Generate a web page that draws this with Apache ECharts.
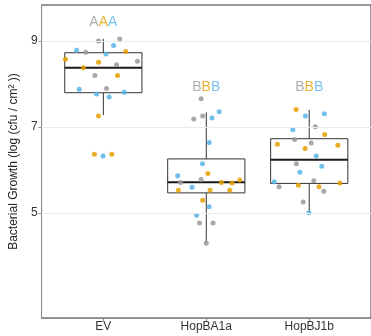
<!DOCTYPE html>
<html>
<head>
<meta charset="utf-8">
<script src="https://cdn.jsdelivr.net/npm/echarts@6/dist/echarts.min.js"></script>
<style>
  html, body { margin: 0; padding: 0; background: #fff; }
  #chart { width: 371px; height: 336px; }
</style>
</head>
<body>
<div id="chart"></div>
<script>
const groups = ['EV', 'HopBA1a', 'HopBJ1b'];

// [min, Q1, median, Q3, max]
const boxStats = [
  [7.28, 7.80, 8.38, 8.73, 9.05],
  [4.30, 5.47, 5.72, 6.26, 7.34],
  [5.01, 5.69, 6.24, 6.73, 7.40],
];

// jittered points, [x position, log cfu]
const grayPts = [
  [0.953, 9.00], [1.159, 9.05], [0.828, 8.74], [1.128, 8.45], [1.331, 8.53], [0.918, 8.20], [1.031, 7.90],
  [1.950, 7.66], [1.878, 7.19], [1.965, 7.26], [1.950, 5.78], [1.750, 5.71], [1.934, 4.77], [2.066, 4.77], [2.000, 4.30],
  [3.059, 7.01], [2.859, 6.71], [3.019, 6.63], [2.875, 6.15], [3.044, 5.75], [2.707, 5.61], [3.141, 5.51], [2.941, 5.26],
];
const orangePts = [
  [1.218, 8.76], [0.632, 8.58], [0.953, 8.51], [0.806, 8.38], [1.138, 8.20], [0.953, 7.26], [0.913, 6.37], [1.082, 6.37],
  [2.016, 5.92], [2.147, 5.71], [2.250, 5.70], [2.325, 5.77], [1.728, 5.53], [2.037, 5.53], [2.228, 5.53], [1.965, 5.30],
  [2.872, 7.41], [3.150, 6.83], [2.691, 6.60], [2.960, 6.50], [3.278, 6.58], [2.894, 5.65], [3.297, 5.70], [3.094, 5.61],
];
const bluePts = [
  [1.100, 8.90], [0.740, 8.79], [1.025, 8.70], [0.766, 7.88], [1.203, 7.81], [0.934, 7.77], [1.056, 7.70], [0.997, 6.33],
  [2.125, 7.36], [2.056, 7.21], [2.028, 6.64], [1.963, 6.15], [1.722, 5.87], [1.862, 5.60], [2.028, 5.15], [1.906, 4.95],
  [2.963, 7.26], [3.147, 7.31], [2.841, 6.94], [3.068, 6.33], [3.122, 6.09], [2.909, 5.95], [2.660, 5.73], [2.997, 5.01],
];

const letters = ['A', 'B', 'B'];
const letterY = [9.43, 7.93, 7.93];
const yTicks = [5, 7, 9];

const GRAY = '#999999', ORANGE = '#E69F00', BLUE = '#56B4E9';

function renderBox(params, api) {
  const x = api.value(0);
  const half = 0.375;
  const lo = api.coord([x - half, api.value(2)]);
  const hi = api.coord([x + half, api.value(4)]);
  const top = api.coord([x, api.value(5)]);
  const bot = api.coord([x, api.value(1)]);
  const med = api.coord([x, api.value(3)]);
  const stroke = {stroke: '#333', lineWidth: 1, fill: null};
  return {
    type: 'group',
    children: [
      {type: 'line', shape: {x1: top[0], y1: top[1], x2: top[0], y2: hi[1]}, style: stroke},
      {type: 'line', shape: {x1: bot[0], y1: lo[1], x2: bot[0], y2: bot[1]}, style: stroke},
      {type: 'rect', shape: {x: lo[0], y: hi[1], width: hi[0] - lo[0], height: lo[1] - hi[1]},
        style: {stroke: '#333', lineWidth: 1, fill: '#fff'}},
      {type: 'line', shape: {x1: lo[0], y1: med[1], x2: hi[0], y2: med[1]},
        style: {stroke: '#1a1a1a', lineWidth: 2}},
    ],
  };
}

const chart = echarts.init(document.getElementById('chart'), null, {renderer: 'canvas'});

const font = 'Liberation Sans, Arial, sans-serif';

chart.setOption({
  animation: false,
  grid: {
    left: 38, top: 5, width: 341, height: 313,
    show: true, borderColor: '#333', borderWidth: 1, backgroundColor: '#fff',
  },
  xAxis: {
    type: 'value',
    min: 0.4,
    max: 3.6,
    axisLine: {lineStyle: {color: '#8c8c8c', width: 1}},
    axisTick: {customValues: [1, 2, 3], length: 3, lineStyle: {color: '#8c8c8c'}},
    axisLabel: {
      customValues: [1, 2, 3],
      formatter: v => groups[Math.round(v) - 1],
      color: '#333', fontSize: 12, fontFamily: font, margin: 3,
    },
    splitLine: {show: false},
  },
  yAxis: {
    type: 'value',
    min: 2.56,
    max: 9.84,
    name: 'Bacterial Growth (log (cfu / cm² ))',
    nameLocation: 'middle',
    nameGap: 21,
    nameTextStyle: {color: '#222', fontSize: 12, fontFamily: font},
    axisLine: {show: true, lineStyle: {color: '#8c8c8c', width: 1}},
    axisTick: {show: true, customValues: yTicks, length: 3, lineStyle: {color: '#8c8c8c'}},
    axisLabel: {customValues: yTicks, color: '#333', fontSize: 12, fontFamily: font, margin: 4},
    splitLine: {show: false},
  },
  series: [
    {
      // letters + grid lines
      type: 'scatter',
      z: 1,
      symbolSize: 0,
      data: letters.map((l, i) => [i + 1, letterY[i], l]),
      label: {
        show: true,
        position: 'inside',
        formatter: p => `{g|${p.data[2]}}{o|${p.data[2]}}{b|${p.data[2]}}`,
        rich: {
          g: {color: GRAY, fontSize: 14, fontFamily: font},
          o: {color: ORANGE, fontSize: 14, fontFamily: font},
          b: {color: BLUE, fontSize: 14, fontFamily: font},
        },
      },
      markLine: {
        silent: true,
        symbol: 'none',
        label: {show: false},
        lineStyle: {color: '#ebebeb', width: 1, type: 'solid'},
        data: yTicks.map(v => ({yAxis: v})),
      },
    },
    {
      type: 'custom',
      z: 2,
      renderItem: renderBox,
      encode: {x: 0, y: [1, 2, 3, 4, 5]},
      data: boxStats.map((s, i) => [i + 1, ...s]),
    },
    {type: 'scatter', z: 3, symbolSize: 5, itemStyle: {color: GRAY, opacity: 0.85}, data: grayPts},
    {type: 'scatter', z: 3, symbolSize: 5, itemStyle: {color: ORANGE, opacity: 0.85}, data: orangePts},
    {type: 'scatter', z: 3, symbolSize: 5, itemStyle: {color: BLUE, opacity: 0.85}, data: bluePts},
  ],
});
</script>
</body>
</html>
